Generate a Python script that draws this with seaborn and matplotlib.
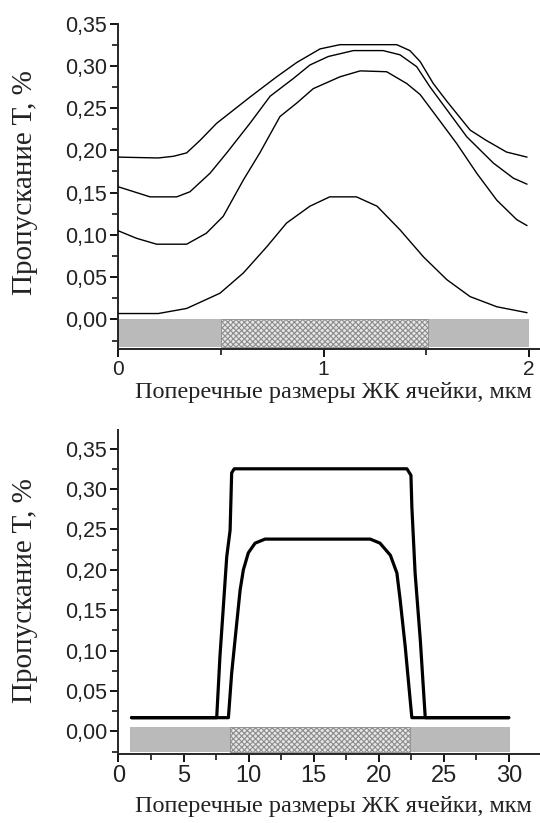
import matplotlib
matplotlib.use("Agg")
import matplotlib.pyplot as plt
from matplotlib.ticker import MultipleLocator, FuncFormatter
import seaborn as sns
import pandas as pd

# upper panel: four transmission curves, x in um
top_x1 = [0.0, 0.196, 0.27, 0.334, 0.40, 0.48, 0.642, 0.772, 0.87, 0.983, 1.08, 1.356,
          1.42, 1.47, 1.534, 1.60, 1.713, 1.79, 1.89, 1.99]
top_y1 = [0.192, 0.191, 0.193, 0.197, 0.212, 0.232, 0.263, 0.287, 0.304, 0.320, 0.325, 0.325,
          0.318, 0.305, 0.279, 0.258, 0.224, 0.212, 0.198, 0.192]
top_x2 = [0.0, 0.156, 0.286, 0.35, 0.448, 0.529, 0.642, 0.74, 0.853, 0.934, 1.023, 1.145,
          1.29, 1.372, 1.453, 1.518, 1.60, 1.697, 1.826, 1.924, 1.99]
top_y2 = [0.157, 0.145, 0.145, 0.151, 0.173, 0.197, 0.232, 0.264, 0.285, 0.301, 0.311, 0.318,
          0.318, 0.313, 0.299, 0.275, 0.248, 0.216, 0.185, 0.167, 0.160]
top_x3 = [0.0, 0.09, 0.188, 0.334, 0.43, 0.512, 0.61, 0.69, 0.788, 0.87, 0.95, 1.08,
          1.178, 1.307, 1.405, 1.47, 1.55, 1.648, 1.745, 1.843, 1.94, 1.99]
top_y3 = [0.105, 0.096, 0.089, 0.089, 0.102, 0.122, 0.165, 0.197, 0.240, 0.256, 0.273, 0.287,
          0.294, 0.293, 0.279, 0.266, 0.240, 0.208, 0.173, 0.141, 0.118, 0.111]
top_x4 = [0.0, 0.196, 0.334, 0.496, 0.61, 0.724, 0.82, 0.934, 1.03, 1.16, 1.26, 1.372,
          1.486, 1.60, 1.713, 1.843, 1.99]
top_y4 = [0.007, 0.007, 0.013, 0.031, 0.055, 0.086, 0.114, 0.134, 0.145, 0.145, 0.134, 0.106,
          0.074, 0.047, 0.027, 0.015, 0.008]

# lower panel: two transmission curves, x in um
bot_xa = [1.0, 7.55, 7.8, 8.06, 8.32, 8.58, 8.7, 8.9, 22.17, 22.48, 22.55, 22.8, 23.2, 23.58, 30.0]
bot_ya = [0.017, 0.017, 0.093, 0.154, 0.216, 0.249, 0.320, 0.325, 0.325, 0.317, 0.278, 0.196,
          0.113, 0.017, 0.017]
bot_xb = [1.0, 8.45, 8.7, 9.09, 9.35, 9.6, 9.98, 10.5, 11.27, 19.35, 20.1, 20.9, 21.4, 21.65,
          22.04, 22.42, 22.55, 30.0]
bot_yb = [0.017, 0.017, 0.072, 0.134, 0.175, 0.200, 0.221, 0.233, 0.238, 0.238, 0.233, 0.218,
          0.196, 0.163, 0.105, 0.039, 0.017, 0.017]

# cell structure strips under the curves: [x_start, x_end], [y_low, y_high]
top_cell_x = [0.0, 2.0]
top_cell_y = [-0.033, 0.001]
top_lc_x = [0.5, 1.51]
bot_cell_x = [0.9, 30.1]
bot_cell_y = [-0.025, 0.006]
bot_lc_x = [8.58, 22.4]

x_label = "Поперечные размеры ЖК ячейки, мкм"
y_label = "Пропускание T, %"

sns.set_theme(style="ticks")
plt.rcParams["font.family"] = ["Liberation Sans", "DejaVu Sans"]
plt.rcParams["hatch.linewidth"] = 0.8
serif = ["Liberation Serif", "DejaVu Serif"]

fig = plt.figure(figsize=(5.4, 8.23), dpi=100)
ax1 = fig.add_axes([0.2185, 0.5759, 0.7815, 0.3955])
ax2 = fig.add_axes([0.2194, 0.0838, 0.7806, 0.3937])

comma = FuncFormatter(lambda v, p: f"{v:.2f}".replace(".", ","))


def draw_cell(ax, cell_x, cell_y, lc_x):
    ax.fill_between(cell_x, cell_y[0], cell_y[1], color="#bababa", lw=0, zorder=1)
    ax.fill_between(lc_x, cell_y[0], cell_y[1], facecolor="#e6e6e6", edgecolor="#8c8c8c",
                    hatch="xxxxxx", lw=0.6, zorder=1.5)


draw_cell(ax1, top_cell_x, top_cell_y, top_lc_x)
for xs, ys in [(top_x1, top_y1), (top_x2, top_y2), (top_x3, top_y3), (top_x4, top_y4)]:
    df = pd.DataFrame({"x": xs, "y": ys})
    sns.lineplot(data=df, x="x", y="y", ax=ax1, color="black", lw=1.0, sort=False,
                 estimator=None, zorder=3)

draw_cell(ax2, bot_cell_x, bot_cell_y, bot_lc_x)
for xs, ys in [(bot_xa, bot_ya), (bot_xb, bot_yb)]:
    df = pd.DataFrame({"x": xs, "y": ys})
    sns.lineplot(data=df, x="x", y="y", ax=ax2, color="black", lw=2.3, sort=False,
                 estimator=None, zorder=3)

ax1.set_xlim(0, 2.053)
ax1.set_ylim(-0.035, 0.35)
ax1.xaxis.set_major_locator(MultipleLocator(1))
ax1.xaxis.set_minor_locator(MultipleLocator(0.5))
ax1.xaxis.set_major_formatter(FuncFormatter(lambda v, p: f"{v:.0f}"))

ax2.set_xlim(0, 32.4)
ax2.set_ylim(-0.028, 0.373)
ax2.xaxis.set_major_locator(MultipleLocator(5))
ax2.xaxis.set_minor_locator(MultipleLocator(2.5))

for ax, xs in [(ax1, 15), (ax2, 17)]:
    ax.set_yticks([0.0, 0.05, 0.10, 0.15, 0.20, 0.25, 0.30, 0.35])
    ax.yaxis.set_minor_locator(MultipleLocator(0.025))
    ax.yaxis.set_major_formatter(comma)
    sns.despine(ax=ax)
    ax.spines["left"].set_linewidth(1.4)
    ax.spines["bottom"].set_linewidth(1.4)
    ax.tick_params(which="major", direction="out", length=6, width=1.3, pad=2, color="black")
    ax.tick_params(which="minor", direction="out", length=4, width=1.1, color="black")
    ax.tick_params(axis="y", labelsize=15.5, labelcolor="#222222")
    ax.tick_params(axis="x", labelsize=xs, labelcolor="#222222")
    ax.set_xlabel(x_label, fontsize=17.5, family=serif, color="#222222")
    ax.set_ylabel(y_label, fontsize=21, family=serif, color="#222222")
    ax.set_facecolor("white")

ax1.xaxis.set_label_coords(0.51, -0.1)
ax1.yaxis.set_label_coords(-0.19, 0.51)
ax2.xaxis.set_label_coords(0.51, -0.13)
ax2.yaxis.set_label_coords(-0.19, 0.506)

fig.savefig("out.png", dpi=100, facecolor="white")
plt.close(fig)
